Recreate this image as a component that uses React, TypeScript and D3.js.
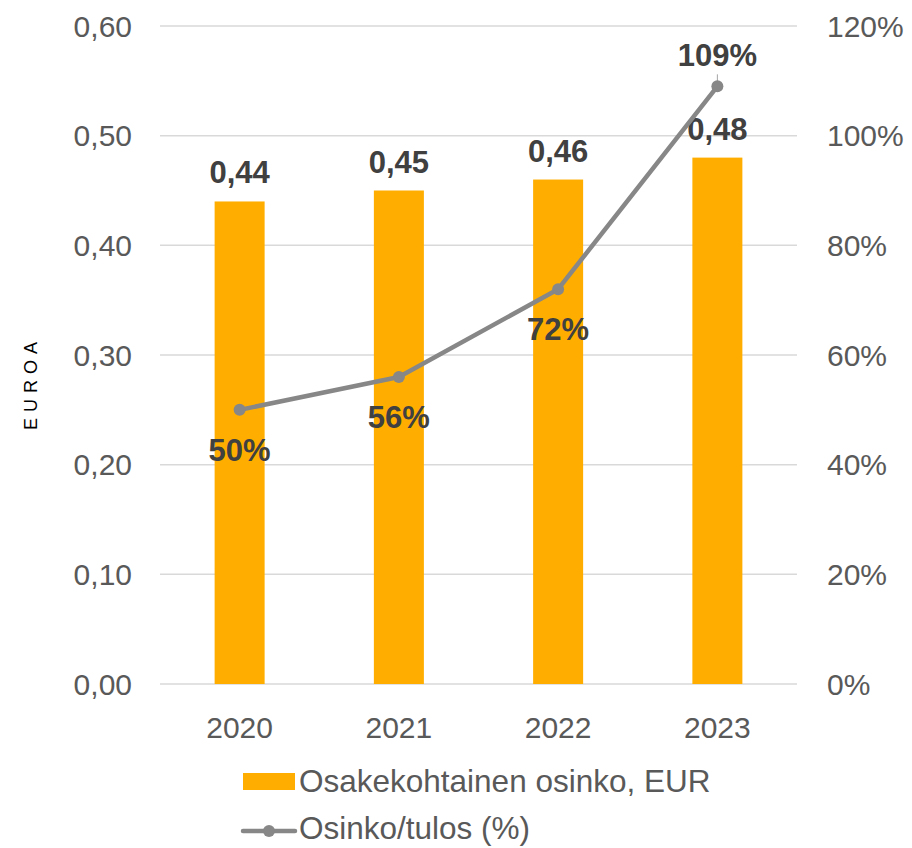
import React from "react";
import * as d3 from "d3";

const years = ["2020", "2021", "2022", "2023"];
const dividend = [0.44, 0.45, 0.46, 0.48];
const payout = [50, 56, 72, 109];
const leftTicks = [0, 0.1, 0.2, 0.3, 0.4, 0.5, 0.6];
const rightTicks = [0, 20, 40, 60, 80, 100, 120];
const seriesNames = ["Osakekohtainen osinko, EUR", "Osinko/tulos (%)"];

const W = 912, H = 848;
const m = { left: 160, right: 797, top: 26, bottom: 684 };
const FONT = "'Liberation Sans', Arial, sans-serif";

export default function App() {
  const x = d3.scaleBand().domain(years).range([m.left, m.right]).paddingInner(0.686).paddingOuter(0.343);
  const yL = d3.scaleLinear().domain([0, 0.6]).range([m.bottom, m.top]);
  const yR = d3.scaleLinear().domain([0, 120]).range([m.bottom, m.top]);
  const cx = (d: string) => (x(d) as number) + x.bandwidth() / 2;
  const line = d3.line<number>().x((_, i) => cx(years[i])).y((d) => yR(d));
  const fmt = (v: number) => v.toFixed(2).replace(".", ",");
  // label offsets: below for first three, above for last
  const pctDy = [51, 51, 51, -20];

  return (
    <svg width={W} height={H} style={{ position: "absolute", left: 0, top: 0, fontFamily: FONT }}>
      <rect width={W} height={H} fill="#fff" />
      {leftTicks.map((t) => (
        <line key={t} x1={m.left} x2={m.right} y1={yL(t)} y2={yL(t)} stroke="#d9d9d9" strokeWidth={1.5} />
      ))}
      {leftTicks.map((t) => (
        <text key={"l" + t} x={132} y={yL(t)} dy="0.35em" textAnchor="end" fontSize={30} fill="#595959">
          {fmt(t)}
        </text>
      ))}
      {rightTicks.map((t) => (
        <text key={"r" + t} x={827} y={yR(t)} dy="0.35em" textAnchor="start" fontSize={30} fill="#595959">
          {t + "%"}
        </text>
      ))}
      <text transform={`translate(37,383) rotate(-90)`} textAnchor="middle" fontSize={18} fill="#000" letterSpacing={6}>
        EUROA
      </text>
      {years.map((yr, i) => (
        <rect key={yr} x={x(yr)} y={yL(dividend[i])} width={x.bandwidth()} height={m.bottom - yL(dividend[i])} fill="#ffae00" />
      ))}
      {years.map((yr) => (
        <text key={"x" + yr} x={cx(yr)} y={738} textAnchor="middle" fontSize={30} fill="#595959">
          {yr}
        </text>
      ))}
      {years.map((yr, i) => (
        <text key={"d" + yr} x={cx(yr)} y={yL(dividend[i]) - 18} textAnchor="middle" fontSize={31} fontWeight="bold" fill="#404040">
          {fmt(dividend[i])}
        </text>
      ))}
      <path d={line(payout) || ""} fill="none" stroke="#878787" strokeWidth={4.5} strokeLinejoin="round" />
      <line x1={cx(years[3])} x2={cx(years[3])} y1={yR(payout[3]) - 12} y2={yR(payout[3])} stroke="#a6a6a6" strokeWidth={1} />
      {years.map((yr, i) => (
        <circle key={"c" + yr} cx={cx(yr)} cy={yR(payout[i])} r={6} fill="#878787" />
      ))}
      {years.map((yr, i) => (
        <text key={"p" + yr} x={cx(yr)} y={yR(payout[i]) + pctDy[i]} textAnchor="middle" fontSize={31} fontWeight="bold" fill="#404040">
          {payout[i] + "%"}
        </text>
      ))}
      <rect x={243} y={773} width={52} height={17} fill="#ffae00" />
      <text x={299} y={781} dy="0.35em" fontSize={31.5} fill="#595959">{seriesNames[0]}</text>
      <line x1={243} x2={295} y1={831} y2={831} stroke="#878787" strokeWidth={4.5} strokeLinecap="round" />
      <circle cx={269} cy={831} r={6} fill="#878787" />
      <text x={299} y={828} dy="0.35em" fontSize={31.5} fill="#595959">{seriesNames[1]}</text>
    </svg>
  );
}
